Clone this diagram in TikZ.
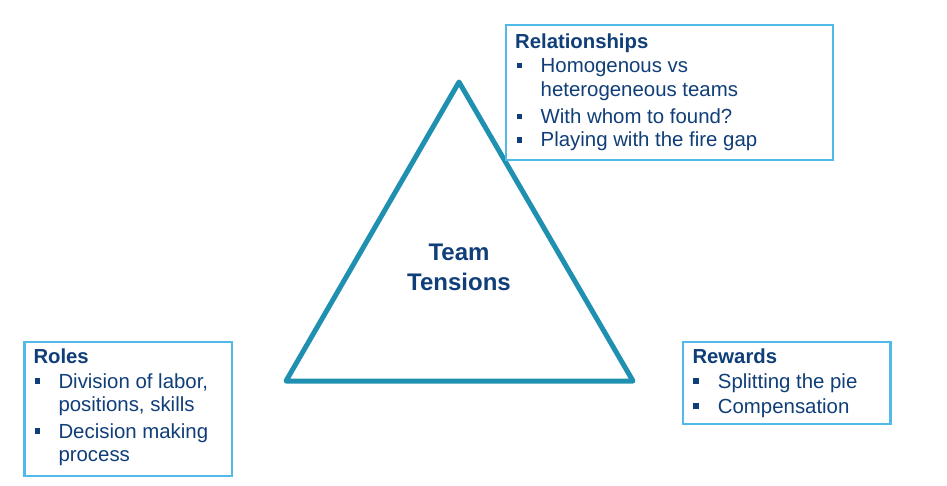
\documentclass[tikz,border=0pt]{standalone}
\usepackage{fontspec}
\setmainfont{Liberation Sans}
\definecolor{tri}{RGB}{32,144,176}
\definecolor{frame}{RGB}{82,186,232}
\definecolor{ink}{RGB}{16,62,120}
\tikzset{
  panel/.style={draw=frame, line width=2.6pt, fill=white, inner sep=0pt, anchor=north west},
  head/.style={anchor=base west, inner sep=0pt, text=ink, font=\fontsize{20.3}{24}\selectfont\bfseries},
  line/.style={anchor=base west, inner sep=0pt, text=ink, font=\fontsize{20.4}{24}\selectfont},
  sq/.style={fill=ink, draw=none, minimum size=5.8pt, inner sep=0pt},
  core/.style={anchor=base, inner sep=0pt, text=ink, font=\fontsize{24}{28}\selectfont\bfseries}
}
\begin{document}
\begin{tikzpicture}[x=1pt,y=-1pt]
\useasboundingbox (0,0) rectangle (947,485);

% triangle
\coordinate (apex) at (459,82);
\coordinate (bl) at (286,381);
\coordinate (br) at (633,381);
\draw[tri, line width=5pt, line join=round] (apex) -- (br) -- (bl) -- cycle;
\node[core] (team) at (459,260) {Team};
\node[core] (tens) at (459,290) {Tensions};

% Relationships
\node[panel, minimum width=327pt, minimum height=135pt] (relbox) at (504.5,23.5) {};
\node[head] (relh) at (515,48.3) {Relationships};
\node[sq] (rb1) at (519.5,65.5) {};
\node[line] (rl1) at (540.5,72.3) {Homogenous vs};
\node[line] (rl2) at (540.5,96.7) {heterogeneous teams};
\node[sq] (rb2) at (519.5,116.5) {};
\node[line] (rl3) at (540.5,123.3) {With whom to found?};
\node[sq] (rb3) at (519.5,140) {};
\node[line] (rl4) at (540.5,146.7) {Playing with the fire gap};

% Roles
\node[panel, minimum width=207.5pt, minimum height=134pt] (rolbox) at (23,340.5) {};
\node[head] (rolh) at (33.3,363) {Roles};
\node[sq] (ob1) at (37.5,381.2) {};
\node[line] (ol1) at (58.3,388) {Division of labor,};
\node[line] (ol2) at (58.3,411.7) {positions, skills};
\node[sq] (ob2) at (37.5,431.2) {};
\node[line] (ol3) at (58.3,438) {Decision making};
\node[line] (ol4) at (58.3,461) {process};

% Rewards
\node[panel, minimum width=207.5pt, minimum height=82pt] (rewbox) at (681.8,340.5) {};
\node[head] (rewh) at (692.3,363.3) {Rewards};
\node[sq] (wb1) at (696,381.2) {};
\node[line] (wl1) at (717.7,388) {Splitting the pie};
\node[sq] (wb2) at (696,406.2) {};
\node[line] (wl2) at (717.7,413) {Compensation};
\end{tikzpicture}
\end{document}
